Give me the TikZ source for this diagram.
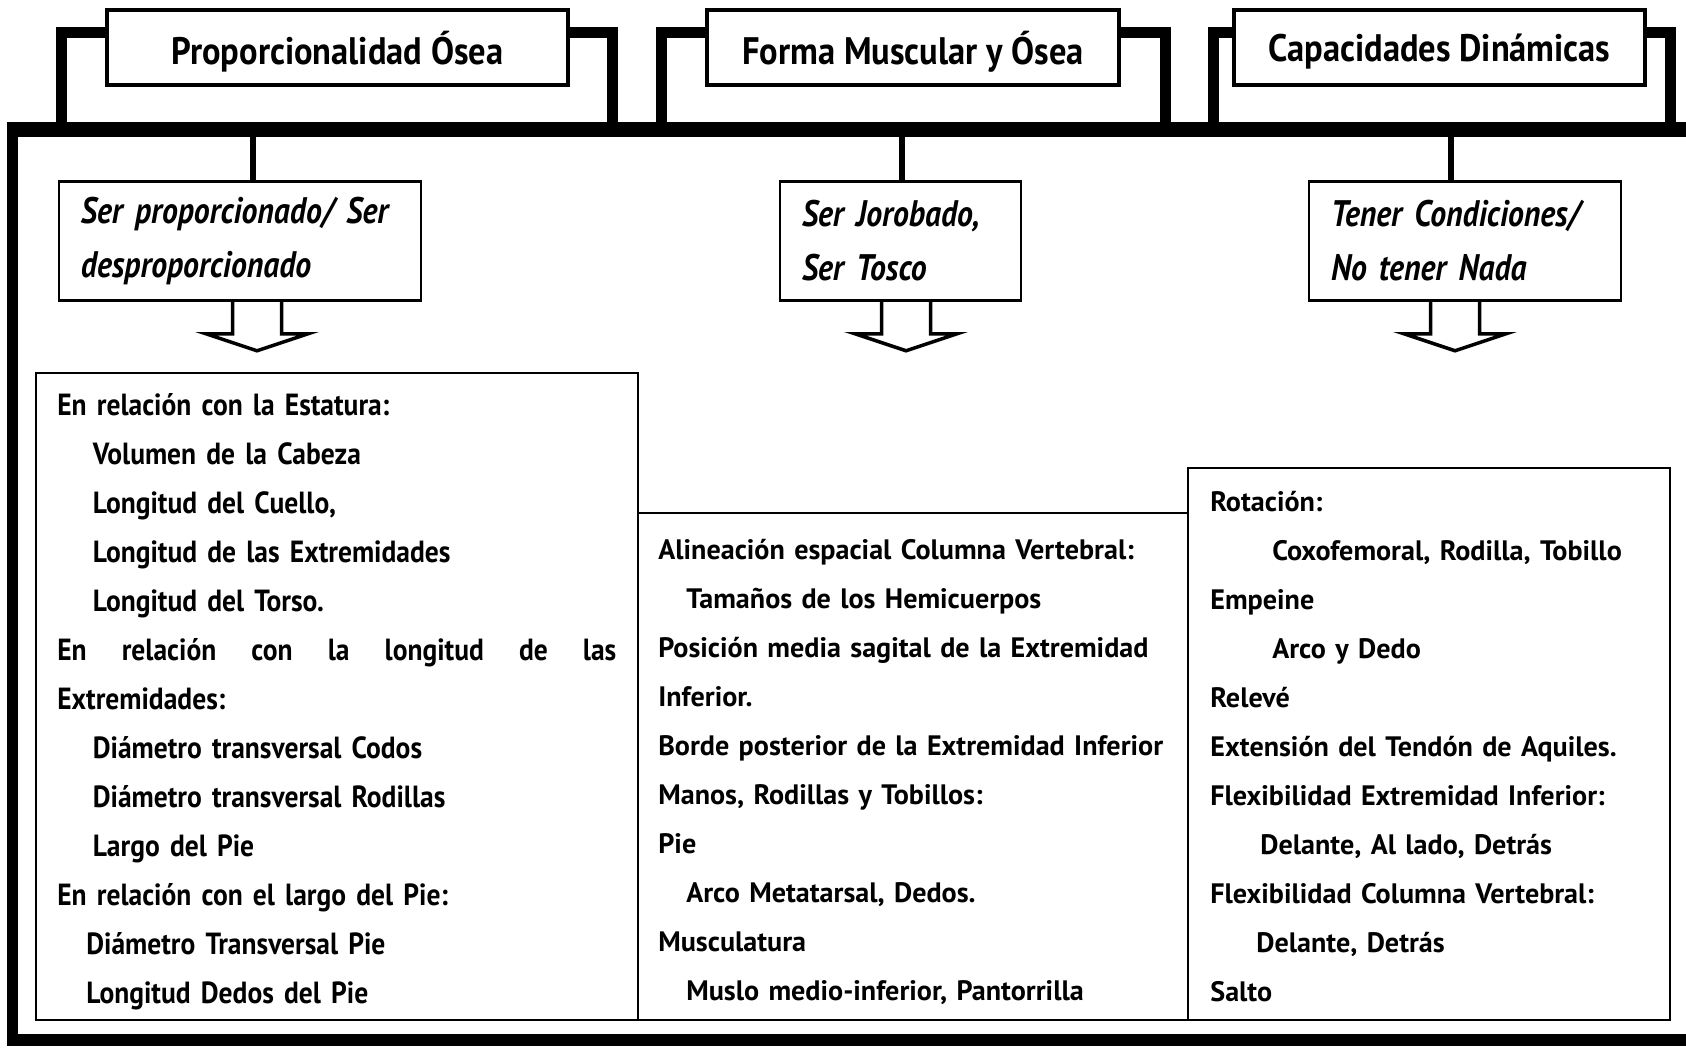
\documentclass[tikz,border=0pt]{standalone}
\usepackage{fontspec}
\setmainfont{PT Sans}
\newfontfamily\headfont[FakeStretch=0.9]{PT Sans}
\newfontfamily\slimfont[FakeStretch=0.9]{PT Sans}
\newfontfamily\itfont[FakeStretch=0.86]{PT Sans}
\usetikzlibrary{calc,positioning}

\begin{document}
\begin{tikzpicture}[
  x=0.2mm,y=-0.2mm,
  bar/.style={line width=3mm},
  rim/.style={line width=2.3mm},
  bracket/.style={line width=2.2mm},
  drop/.style={line width=1.1mm},
  title/.style={draw,line width=0.9mm,fill=white,minimum height=15mm,inner sep=0pt,text depth=0pt,font=\headfont\bfseries\fontsize{21.8}{24}\selectfont},
  label/.style={draw,line width=0.5mm,minimum height=23.8mm,inner xsep=4.4mm,align=left,font=\itfont\bfseries\itshape\fontsize{21}{30.7}\selectfont},
  panel/.style={draw,line width=0.45mm,inner sep=0pt},
  hollow/.style={line width=0.7mm,line join=miter},
  entries/.style={anchor=north west,inner sep=0pt,align=left,font=\bfseries\fontsize{16}{27.9}\selectfont}
]
\useasboundingbox (0,0) rectangle (1686,1047);

\node[title,minimum width=92.2mm] (t1) at (337.5,47.5) {Proporcionalidad Ósea};
\node[title,minimum width=82.4mm] (t2) at (913,47.5) {Forma Muscular y Ósea};
\node[title,minimum width=82.2mm] (t3) at (1439.5,47.5) {Capacidades Dinámicas};

\coordinate (nw) at (7,129.5);
\coordinate (ne) at (1686,129.5);
\coordinate (sw) at (12.5,1040);
\coordinate (se) at (1686,1040);
\coordinate (l1) at (61,129.5);
\coordinate (r1) at (612,129.5);
\coordinate (l2) at (661,129.5);
\coordinate (r2) at (1165,129.5);
\coordinate (l3) at (1213,129.5);
\coordinate (r3) at (1670,129.5);
\coordinate (d1) at (253,129.5);
\coordinate (d2) at (902,129.5);
\coordinate (d3) at (1451,129.5);

\node[label,minimum width=72.4mm,text width=63.6mm] (i1) at (240,241) {Ser proporcionado/ Ser\\desproporcionado};
\node[label,minimum width=48.2mm,text width=39.4mm] (i2) at (900.5,241) {Ser Jorobado,\\Ser Tosco};
\node[label,minimum width=62.4mm,text width=53.6mm] (i3) at (1465,241) {Tener Condiciones/\\No tener Nada};

\node[panel,minimum width=110mm,minimum height=101.4mm] (p2) at (913,766.5) {};
\node[panel,minimum width=120.4mm,minimum height=129.4mm] (p1) at (337,696.5) {};
\node[panel,minimum width=96.4mm,minimum height=110.4mm] (p3) at (1429,744) {};

\node[entries,font=\slimfont\bfseries\fontsize{17.4}{27.9}\selectfont,text width=115mm] (e1) at (57,393) {En relación con la Estatura:\\
\hspace*{7.1mm}Volumen de la Cabeza\\
\hspace*{7.1mm}Longitud del Cuello,\\
\hspace*{7.1mm}Longitud de las Extremidades\\
\hspace*{7.1mm}Longitud del Torso.\\
\leavevmode\hbox to 111.8mm{En\hfill relación\hfill con\hfill la\hfill longitud\hfill de\hfill las}\\
Extremidades:\\
\hspace*{7.1mm}Diámetro transversal Codos\\
\hspace*{7.1mm}Diámetro transversal Rodillas\\
\hspace*{7.1mm}Largo del Pie\\
En relación con el largo del Pie:\\
\hspace*{5.8mm}Diámetro Transversal Pie\\
\hspace*{5.8mm}Longitud Dedos del Pie};

\node[entries,text width=108mm] (e2) at (658,539) {Alineación espacial Columna Vertebral:\\
\hspace*{5.6mm}Tamaños de los Hemicuerpos\\
Posición media sagital de la Extremidad\\
Inferior.\\
Borde posterior de la Extremidad Inferior\\
Manos, Rodillas y Tobillos:\\
Pie\\
\hspace*{5.6mm}Arco Metatarsal, Dedos.\\
Musculatura\\
\hspace*{5.6mm}Muslo medio-inferior, Pantorrilla};

\node[entries,text width=92mm] (e3) at (1210,491) {Rotación:\\
\hspace*{12.4mm}Coxofemoral, Rodilla, Tobillo\\
Empeine\\
\hspace*{12.4mm}Arco y Dedo\\
Relevé\\
Extensión del Tendón de Aquiles.\\
Flexibilidad Extremidad Inferior:\\
\hspace*{10mm}Delante, Al lado, Detrás\\
Flexibilidad Columna Vertebral:\\
\hspace*{9.2mm}Delante, Detrás\\
Salto};

\draw[bar] (nw) -- (ne);
\draw[rim] (nw -| sw) -- (sw) -- (se);

\foreach \k in {1,2,3} {
  \draw[bracket] ($(t\k.north west)+(0,25)$) -| (l\k);
  \draw[bracket] ($(t\k.north east)+(0,25)$) -| (r\k);
  \draw[drop] (d\k) -- (d\k |- i\k.north);
  \draw[hollow] ($(i\k.south -| d\k)+(-20.5,0)$) -- ++(0,32) -- ++(-26.5,0) -- ++(51,17) -- ++(51,-17) -- ++(-26.5,0) -- ++(0,-32);
}
\end{tikzpicture}
\end{document}
